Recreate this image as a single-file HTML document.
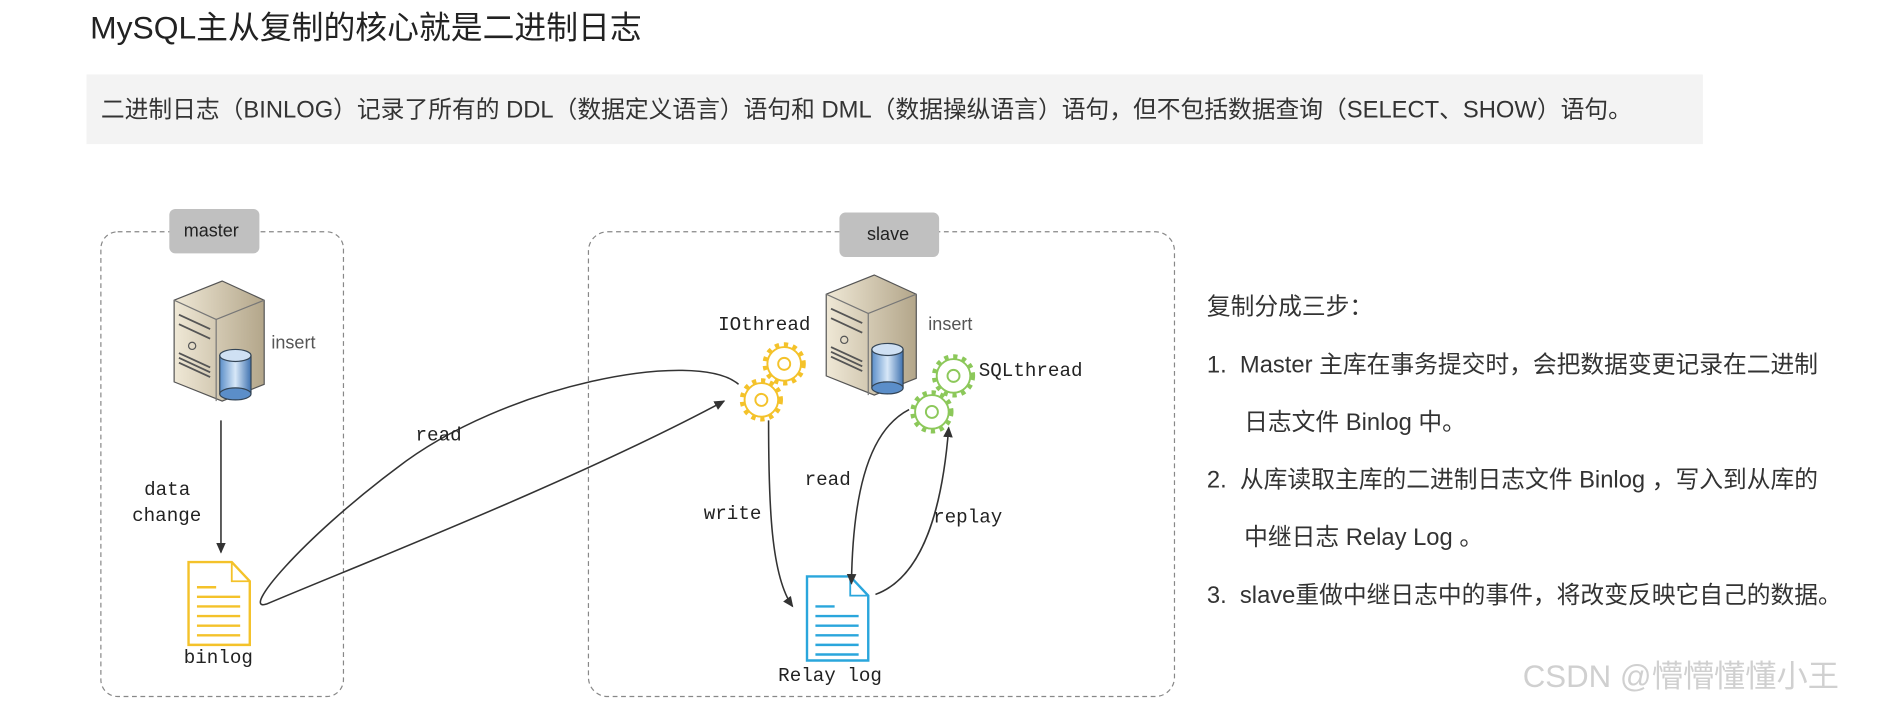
<!DOCTYPE html>
<html><head><meta charset="utf-8"><style>
html,body{margin:0;padding:0;background:#fff;}
#w{width:1883px;height:706px;overflow:hidden;position:relative;}
#s{width:1568px;height:588px;transform:scale(1.2009);transform-origin:0 0;position:absolute;left:0;top:0;}
.t{position:absolute;white-space:nowrap;}
.cj{font-family:"Liberation Sans","Noto Sans CJK SC",sans-serif;}
.mo{font-family:"Liberation Mono",monospace;font-size:16px;color:#222;}
</style></head><body><div id="w"><div id="s">
<div class="t cj" style="left:75px;top:1px;font-size:26.5px;color:#222;">MySQL主从复制的核心就是二进制日志</div>
<div style="position:absolute;left:72px;top:62px;width:1346px;height:58px;background:#f3f3f3;"></div>
<div class="t cj" style="left:84px;top:75px;font-size:19.8px;color:#333;">二进制日志（BINLOG）记录了所有的 DDL（数据定义语言）语句和 DML（数据操纵语言）语句，但不包括数据查询（SELECT、SHOW）语句。</div>

<svg style="position:absolute;left:0;top:0" width="1568" height="588">
<defs>
<marker id="a" markerWidth="10" markerHeight="10" refX="8" refY="5" orient="auto" markerUnits="userSpaceOnUse"><path d="M0,1 L9,5 L0,9 Z" fill="#333"/></marker>
<linearGradient id="sv" x1="0" x2="1"><stop offset="0" stop-color="#efe8d6"/><stop offset="1" stop-color="#b3a68a"/></linearGradient>
<linearGradient id="db" x1="0" x2="1"><stop offset="0" stop-color="#5b8ec9"/><stop offset=".5" stop-color="#d8e8f8"/><stop offset="1" stop-color="#3f72b0"/></linearGradient>
<g id="srv">
<path d="M0,16 L40,0 L75,16 L75,86 L40,100 L0,84 Z" fill="url(#sv)" stroke="#555" stroke-width="1"/>
<path d="M0,16 L35,32 L75,16" fill="none" stroke="#777"/><path d="M35,32 L35,100" stroke="#777"/>
<path d="M4,28 L30,40 M4,36 L30,48 M4,60 L30,72 M4,64 L30,76 M4,68 L30,80" stroke="#555" stroke-width="1.5"/>
<circle cx="15" cy="54" r="3" fill="none" stroke="#555"/>
<rect x="38" y="62" width="26" height="32" fill="url(#db)" stroke="#345"/>
<ellipse cx="51" cy="62" rx="13" ry="5" fill="#cfe0f3" stroke="#345"/>
<ellipse cx="51" cy="94" rx="13" ry="5" fill="#5b8ec9" stroke="#345"/>
</g>
</defs>
<rect x="84" y="193" width="202" height="387" rx="14" fill="none" stroke="#888" stroke-dasharray="4 3"/>
<rect x="490" y="193" width="488" height="387" rx="16" fill="none" stroke="#888" stroke-dasharray="4 3"/>
<rect x="141" y="174" width="75" height="37" rx="5" fill="#c0c0c0"/>
<rect x="699" y="177" width="83" height="37" rx="5" fill="#c0c0c0"/>
<use href="#srv" x="145" y="234"/>
<use href="#srv" x="688" y="229"/>
<g stroke="#f4c22a" fill="none" stroke-width="1.6"><g transform="translate(653,303)"><circle r="14"/><circle r="5"/></g><g transform="translate(634,333)"><circle r="14"/><circle r="5"/></g></g>
<g stroke="#8cc85a" fill="none" stroke-width="1.6"><g transform="translate(794,313)"><circle r="14"/><circle r="5"/></g><g transform="translate(776,343)"><circle r="14"/><circle r="5"/></g></g>
<g stroke="#f4c22a" stroke-width="4" fill="none" stroke-dasharray="3.5 4"><circle cx="653" cy="303" r="16"/><circle cx="634" cy="333" r="16"/></g>
<g stroke="#8cc85a" stroke-width="4" fill="none" stroke-dasharray="3.5 4"><circle cx="794" cy="313" r="16"/><circle cx="776" cy="343" r="16"/></g>
<path d="M157,468 L193,468 L208,484 L208,537 L157,537 Z" fill="#fff" stroke="#f4c22a" stroke-width="2"/>
<path d="M193,468 L193,484 L208,484" fill="none" stroke="#f4c22a" stroke-width="1.5"/>
<g stroke="#f4c22a" stroke-width="2"><path d="M164,489 L180,489 M164,497 L200,497 M164,505 L200,505 M164,513 L200,513 M164,521 L200,521 M164,529 L200,529"/></g>
<path d="M672,480 L708,480 L723,496 L723,550 L672,550 Z" fill="#fff" stroke="#2aa6dc" stroke-width="2"/>
<path d="M708,480 L708,496 L723,496" fill="none" stroke="#2aa6dc" stroke-width="1.5"/>
<g stroke="#2aa6dc" stroke-width="2"><path d="M679,505 L695,505 M679,513 L715,513 M679,521 L715,521 M679,529 L715,529 M679,537 L715,537 M679,545 L715,545"/></g>
<g stroke="#333" stroke-width="1.3" fill="none">
<path d="M184,350 L184,460" marker-end="url(#a)"/>
<path d="M615,320 C580,290 420,320 330,390 C250,450 200,510 222,503 C300,470 480,400 603,334" marker-end="url(#a)"/>
<path d="M640,350 C640,420 642,480 660,505" marker-end="url(#a)"/>
<path d="M757,341 C720,360 710,420 709,486" marker-end="url(#a)"/>
<path d="M729,495 C770,480 785,420 790,356" marker-end="url(#a)"/>
</g>
</svg>
<div class="t cj" style="left:153px;top:184px;font-size:15px;color:#222;">master</div>
<div class="t cj" style="left:722px;top:187px;font-size:15px;color:#222;">slave</div>
<div class="t cj" style="left:226px;top:277px;font-size:15px;color:#555;">insert</div>
<div class="t cj" style="left:773px;top:262px;font-size:15px;color:#555;">insert</div>
<div class="t mo" style="left:598px;top:262px;">IOthread</div>
<div class="t mo" style="left:815px;top:300px;">SQLthread</div>
<div class="t mo" style="left:346px;top:354px;">read</div>
<div class="t mo" style="left:120px;top:399px;">data</div>
<div class="t mo" style="left:110px;top:421px;">change</div>
<div class="t mo" style="left:153px;top:539px;">binlog</div>
<div class="t mo" style="left:648px;top:554px;">Relay log</div>
<div class="t mo" style="left:670px;top:391px;">read</div>
<div class="t mo" style="left:586px;top:419px;">write</div>
<div class="t mo" style="left:777px;top:422px;">replay</div>
<div class="cj" style="position:absolute;left:1005px;top:232px;font-size:19.8px;color:#333;line-height:48px;">
<div>复制分成三步：</div>
<div>1.&nbsp; Master 主库在事务提交时，会把数据变更记录在二进制</div>
<div style="padding-left:31px">日志文件 Binlog 中。</div>
<div>2.&nbsp; 从库读取主库的二进制日志文件 Binlog ，写入到从库的</div>
<div style="padding-left:31px">中继日志 Relay Log 。</div>
<div>3.&nbsp; slave重做中继日志中的事件，将改变反映它自己的数据。</div>
</div>
<div class="t cj" style="left:1268px;top:543px;font-size:26px;color:#d0d0d0;">CSDN @懵懵懂懂小王</div>
</div></div></body></html>
